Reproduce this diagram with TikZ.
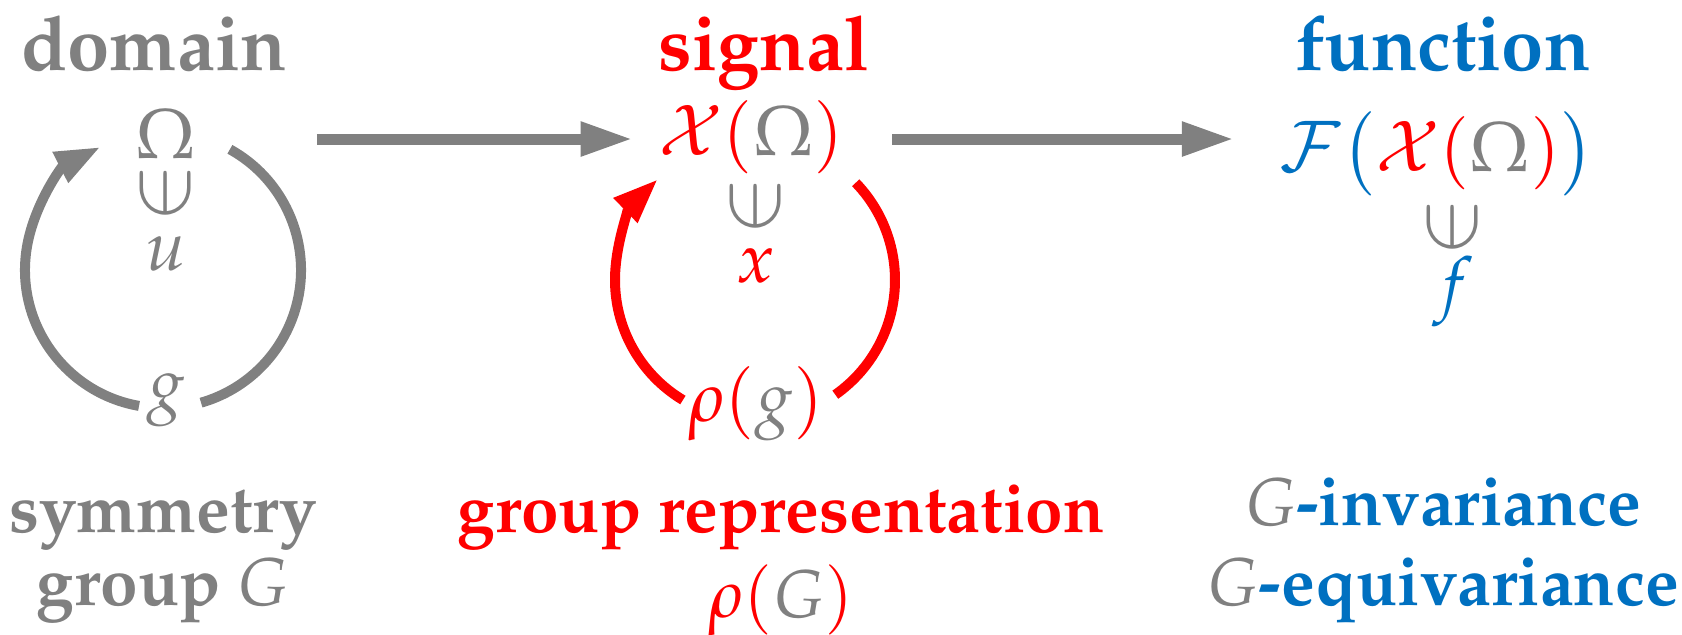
\documentclass[tikz,border=0pt]{standalone}
\usepackage[T1]{fontenc}
\usepackage{mathpazo}
\usepackage{graphicx}
\usetikzlibrary{arrows.meta,positioning}
\definecolor{domgray}{RGB}{128,128,128}
\definecolor{sigred}{RGB}{255,0,0}
\definecolor{funblue}{RGB}{0,112,192}
\newcommand{\isin}{\scalebox{1.2}{\rotatebox[origin=c]{90}{$\in$}}}

\begin{document}
\begin{tikzpicture}[
    title/.style={font=\fontsize{21.6}{24}\selectfont\bfseries, inner sep=0pt, anchor=base},
    lbl/.style={font=\fontsize{19.2}{21}\selectfont\bfseries, inner sep=0pt, anchor=base},
    sym/.style={font=\fontsize{20}{24}\selectfont, inner sep=0pt},
    flow/.style={-{Triangle[length=0.52cm,width=0.32cm]}, line width=0.11cm, domgray},
    loopline/.style={line width=0.1cm},
    looptip/.style={-{Triangle[length=0.45cm,width=0.32cm]}, line width=0.1cm}
  ]
    \useasboundingbox (0,0) rectangle (16.82,-6.34);
    % domain
    \node[title, domgray] (domain) at (1.54,-0.70) {domain};
    \node[sym, domgray] (omega) at (1.66,-1.34) {$\Omega$};
    \node[sym, domgray] (omin) at (1.66,-1.93) {\isin};
    \node[sym, domgray] (u) at (1.66,-2.54) {$u$};
    \node[sym, domgray] (g) at (1.66,-4.00) {$g$};
    \node[lbl, domgray] (symm) at (1.63,-5.32) {symmetry};
    \node[lbl, domgray] (grp) at (1.63,-6.05) {group \textmd{$G$}};
    % action of g on the domain
    \coordinate (domc) at (1.63,-2.70);
    \draw[loopline, domgray] (domc) ++(61:1.38) arc[start angle=61, end angle=-74, radius=1.38];
    \draw[looptip, domgray] (domc) ++(260:1.38) arc[start angle=260, end angle=117, radius=1.38];
    % signal
    \node[title, sigred] (signal) at (7.64,-0.70) {signal};
    \node[sym, sigred] (xomega) at (7.51,-1.37) {$\mathcal{X}(\textcolor{domgray}{\Omega})$};
    \node[sym, domgray] (xin) at (7.56,-2.06) {\isin};
    \node[sym, sigred] (x) at (7.56,-2.66) {$x$};
    \node[sym, sigred] (rhog) at (7.56,-4.04) {$\rho(\textcolor{domgray}{g})$};
    \node[lbl, sigred] (rep) at (7.81,-5.32) {group representation};
    \node[lbl, sigred] (rhoG) at (7.81,-6.17) {\textmd{$\rho(\textcolor{domgray}{G})$}};
    % action of rho(g) on signals
    \coordinate (sigc) at (7.55,-2.80);
    \draw[loopline, sigred] (sigc) ++(44:1.40) arc[start angle=44, end angle=-55, radius=1.40];
    \draw[looptip, sigred] (sigc) ++(239:1.40) arc[start angle=239, end angle=134, radius=1.40];
    % function
    \node[title, funblue] (function) at (14.43,-0.70) {function};
    \node[sym, funblue] (fx) at (14.37,-1.54) {$\mathcal{F}\bigl(\textcolor{sigred}{\mathcal{X}(\textcolor{domgray}{\Omega})}\bigr)$};
    \node[sym, domgray] (fin) at (14.53,-2.27) {\isin};
    \node[sym, funblue] (f) at (14.53,-2.92) {$f$};
    \node[lbl, funblue] (inv) at (14.43,-5.25) {\textcolor{domgray}{\textmd{$G$}}-invariance};
    \node[lbl, funblue] (equiv) at (14.43,-6.05) {\textcolor{domgray}{\textmd{$G$}}-equivariance};
    % maps between the spaces
    \draw[flow] (omega.east) ++(1.20,-0.05) -- ([xshift=-0.25cm]xomega.west |- 0,-1.39);
    \draw[flow] (xomega.east) ++(0.48,-0.02) -- ([xshift=-0.45cm]fx.west |- 0,-1.39);
\end{tikzpicture}
\end{document}
